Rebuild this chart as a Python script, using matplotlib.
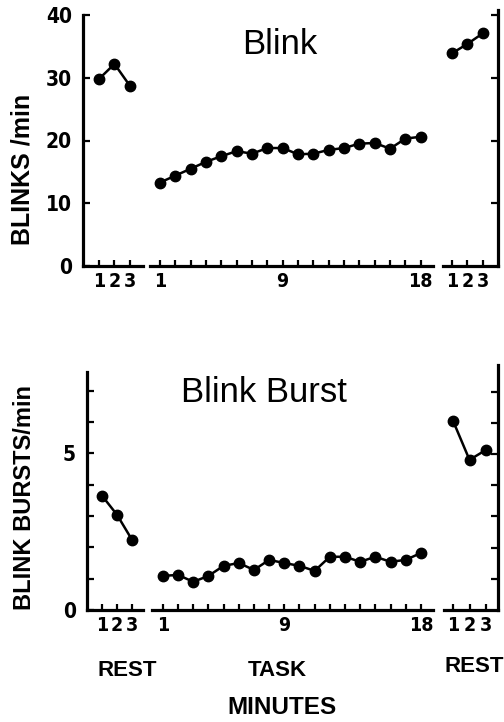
import matplotlib
matplotlib.use("Agg")
from matplotlib import pyplot as plt
from matplotlib import font_manager

# values (per minute)
rest_x = [1, 2, 3]
task_x = list(range(1, 19))
task_labels = ["1" if m == 1 else "9" if m == 9 else "18" if m == 18 else "" for m in task_x]

blink_pre = [29.8, 32.2, 28.7]
blink_task = [13.3, 14.4, 15.5, 16.6, 17.5, 18.3, 17.9, 18.8, 18.8,
              17.8, 17.9, 18.5, 18.8, 19.5, 19.6, 18.7, 20.3, 20.6]
blink_post = [33.9, 35.4, 37.1]

burst_pre = [3.65, 3.04, 2.24]
burst_task = [1.09, 1.12, 0.90, 1.09, 1.41, 1.50, 1.28, 1.60, 1.50,
              1.41, 1.25, 1.70, 1.70, 1.54, 1.70, 1.54, 1.60, 1.82]
burst_post = [6.06, 4.81, 5.13]

W, H = 504, 722

# look for a condensed face for the narrow digits
cond = None
for f in font_manager.fontManager.ttflist:
    if "ondensed" in str(f.stretch) or "Narrow" in f.name:
        cond = (f.name, f.stretch)
        break
narrow = cond[0] if cond else "Liberation Sans"
stretch = cond[1] if cond else "normal"

fig = plt.figure(figsize=(W / 100, H / 100), dpi=100)


# place an axes by its pixel box (left, right, top, bottom)
def box(x0, x1, ytop, ybot):
    return fig.add_axes([x0 / W, 1 - ybot / H, (x1 - x0) / W, (ybot - ytop) / H])


def style(ax, left=False, right=False):
    for s in ax.spines.values():
        s.set_linewidth(2.3)
        s.set_visible(False)
    ax.spines["bottom"].set_visible(True)
    ax.spines["left"].set_visible(left)
    ax.spines["right"].set_visible(right)
    ax.tick_params(axis="x", direction="in", length=4, width=1.6, pad=4)
    ax.tick_params(axis="y", direction="in", length=5, width=1.6, pad=8)
    if right:
        ax.yaxis.tick_right()
        ax.tick_params(axis="y", labelright=False)
    elif not left:
        ax.tick_params(axis="y", left=False, labelleft=False)
    for lab in ax.get_xticklabels():
        lab.set_fontfamily(narrow)
        lab.set_fontstretch(stretch)
        lab.set_fontweight("bold")
        lab.set_fontsize(14)
    for lab in ax.get_yticklabels():
        lab.set_fontfamily(narrow)
        lab.set_fontstretch(stretch)
        lab.set_fontweight("bold")
        lab.set_fontsize(15)
    ax.patch.set_visible(False)


def series(ax, x, y):
    ax.plot(x, y, color="black", lw=1.8, marker="o", ms=7.5, clip_on=False)


# ---- Blink panel ----
a1 = box(83, 143, 15, 266)
series(a1, rest_x, blink_pre)
a1.set_xlim(-0.03, 3.84)
a1.set_ylim(0, 40)
a1.set_xticks(rest_x)
a1.set_yticks([0, 10, 20, 30, 40])
style(a1, left=True)

a2 = box(150, 433, 15, 266)
series(a2, task_x, blink_task)
a2.set_xlim(0.35, 18.8)
a2.set_ylim(0, 40)
a2.set_xticks(task_x)
a2.set_xticklabels(task_labels)
style(a2)

a3 = box(443, 498, 10, 266)
series(a3, rest_x, blink_post)
a3.set_xlim(0.42, 3.97)
a3.set_ylim(0, 40.8)
a3.set_xticks(rest_x)
a3.set_yticks([10, 20, 30, 40])
style(a3, right=True)

fig.text(280 / W, 1 - 45 / H, "Blink", family="Liberation Sans", fontsize=25,
         ha="center", va="center")
fig.text(23 / W, 1 - 169 / H, "BLINKS /min", rotation=90, fontsize=18,
         weight="bold", family="Liberation Sans", ha="center", va="center")

# ---- Blink Burst panel ----
b1 = box(87, 143, 372, 610)
series(b1, rest_x, burst_pre)
b1.set_xlim(0, 3.73)
b1.set_ylim(0, 7.6)
b1.set_xticks(rest_x)
b1.set_yticks(range(0, 8))
b1.set_yticklabels(["0", "", "", "", "", "5", "", ""])
style(b1, left=True)

b2 = box(152, 433, 372, 610)
series(b2, task_x, burst_task)
b2.set_xlim(0.28, 18.8)
b2.set_ylim(0, 7.6)
b2.set_xticks(task_x)
b2.set_xticklabels(task_labels)
style(b2)

b3 = box(444, 498, 365, 610)
series(b3, rest_x, burst_post)
b3.set_xlim(0.45, 3.73)
b3.set_ylim(0, 7.85)
b3.set_xticks(rest_x)
b3.set_yticks(range(1, 8))
style(b3, right=True)

fig.text(264 / W, 1 - 393 / H, "Blink Burst", family="Liberation Sans", fontsize=25,
         ha="center", va="center")
fig.text(25 / W, 1 - 497 / H, "BLINK BURSTS/min", rotation=90, fontsize=17,
         weight="bold", family="Liberation Sans", ha="center", va="center")

# section labels under the bottom panel
lab = dict(fontsize=16, weight="bold", family="Liberation Sans", ha="center", va="center")
fig.text(127 / W, 1 - 671 / H, "REST", **lab)
fig.text(277 / W, 1 - 671 / H, "TASK", **lab)
fig.text(474 / W, 1 - 666 / H, "REST", **lab)
lab["fontsize"] = 17.5
fig.text(282 / W, 1 - 708 / H, "MINUTES", **lab)

fig.savefig("out.png", dpi=100)
